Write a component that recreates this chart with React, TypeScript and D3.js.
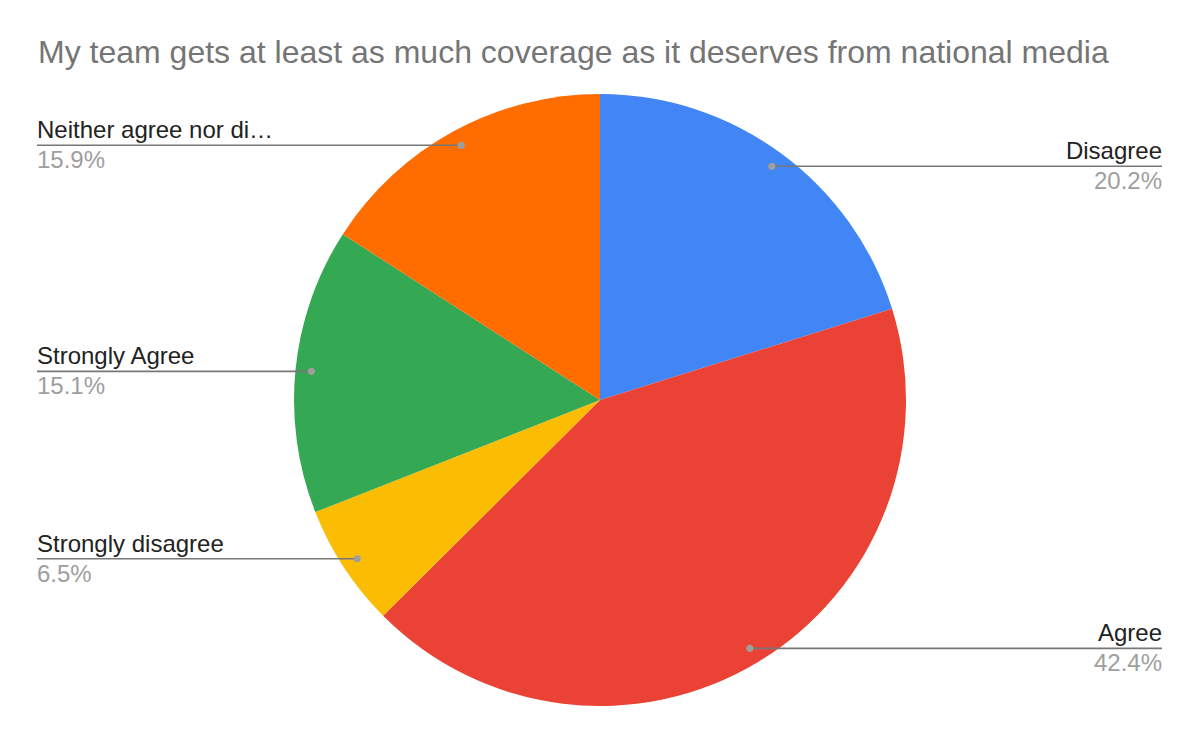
import React from "react";
import * as d3 from "d3";

const title = "My team gets at least as much coverage as it deserves from national media";
const categories = ["Disagree", "Agree", "Strongly disagree", "Strongly Agree", "Neither agree nor di…"];
const values = [20.2, 42.4, 6.5, 15.1, 15.9];
const colors = ["#4285F4", "#EA4335", "#FBBC04", "#34A853", "#FF6D01"];

const W = 1199;
const H = 742;
const cx = 600;
const cy = 400;
const R = 306;
const dotR = R * 0.948;
const leftX = 37;
const rightX = 1162;
const font = "Arial, 'Liberation Sans', sans-serif";

export default function App() {
  const pie = d3.pie<number>().sort(null).value((d) => d)(values);
  const arc = d3.arc<d3.PieArcDatum<number>>().innerRadius(0).outerRadius(R);
  const total = d3.sum(values);

  return (
    <svg width={W} height={H} style={{ position: "absolute", left: 0, top: 0, background: "#fff" }}>
      <text x={38} y={63} fontFamily={font} fontSize={32} fill="#757575">
        {title}
      </text>
      <g transform={`translate(${cx},${cy})`}>
        {pie.map((p, i) => (
          <path key={i} d={arc(p) || ""} fill={colors[i]} />
        ))}
      </g>
      {pie.map((p, i) => {
        const mid = (p.startAngle + p.endAngle) / 2;
        const dx = cx + Math.sin(mid) * dotR;
        const dy = cy - Math.cos(mid) * dotR;
        const right = Math.sin(mid) > 0;
        const x2 = right ? rightX : leftX;
        const anchor = right ? "end" : "start";
        const pct = ((values[i] / total) * 100).toFixed(1) + "%";
        return (
          <g key={i}>
            <line x1={dx} y1={dy} x2={x2} y2={dy} stroke="#777" strokeWidth={1.6} />
            <circle cx={dx} cy={dy} r={3.6} fill="#9e9e9e" />
            <text x={x2} y={dy - 7} textAnchor={anchor} fontFamily={font} fontSize={24} fill="#222">
              {categories[i]}
            </text>
            <text x={x2} y={dy + 23} textAnchor={anchor} fontFamily={font} fontSize={24} fill="#9e9e9e">
              {pct}
            </text>
          </g>
        );
      })}
    </svg>
  );
}
